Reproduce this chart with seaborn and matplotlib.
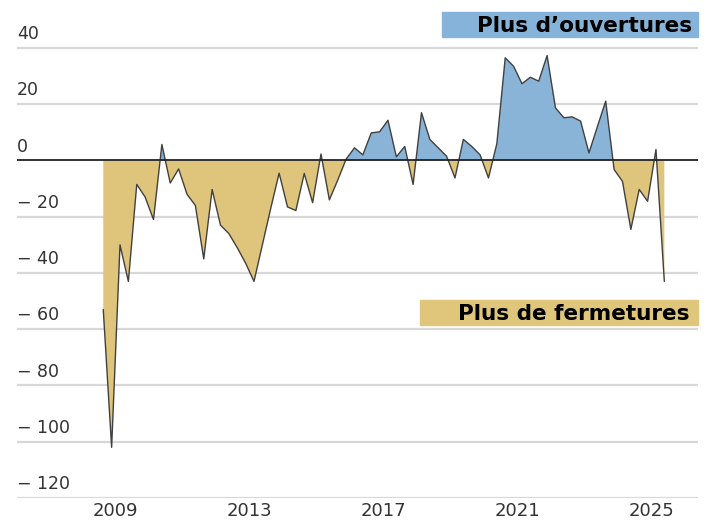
import numpy as np
import pandas as pd
import matplotlib
matplotlib.use("Agg")
import matplotlib.pyplot as plt
import seaborn as sns
from matplotlib.patches import Rectangle

# ---- data (quarterly balance, openings minus closures) ----
start_quarter = "2008Q3"
values = [-53, -102, -30, -43, -8.5, -13, -21, 5.7, -8, -3,
          -12, -16, -35, -10.3, -23, -26, -31, -36.5, -43, -30,
          -17, -4.5, -16.5, -17.8, -4.6, -15, 2.3, -14, -7, 0.5,
          4.5, 2, 9.8, 10.2, 14.3, 1.3, 5, -8.5, 17, 7.5,
          4.5, 1.5, -6.2, 7.5, 5, 2, -6.2, 6, 36.5, 33.5,
          27.3, 29.6, 28.2, 37.3, 18.7, 15.2, 15.5, 14, 2.7, 12,
          21.1, -3.2, -7.4, -24.5, -10.3, -14.5, 3.9, -43]
year_ticks = [2009, 2013, 2017, 2021, 2025]
y_ticks = [40, 20, 0, -20, -40, -60, -80, -100, -120]
y_tick_labels = ["40", "20", "0", "\u2212 20", "\u2212 40", "\u2212 60",
                 "\u2212 80", "\u2212 100", "\u2212 120"]
label_pos = "Plus d\u2019ouvertures"
label_neg = "Plus de fermetures"

periods = pd.period_range(start=start_quarter, periods=len(values), freq="Q")
# position each quarter at its mid-point, in fractional years
xpos = np.array([p.year + (p.quarter - 1) * 0.25 + 0.125 for p in periods])
df = pd.DataFrame({"t": xpos, "v": values})

BLUE = "#8ab4d7"
GOLD = "#dfc57b"
BLUE_BOX = "#86b3da"
GOLD_BOX = "#dfc67a"
TXT = "#333333"

sns.set_theme(style="white")
plt.rcParams["font.family"] = ["DejaVu Sans"]

W, H = 708, 522
fig = plt.figure(figsize=(W / 100, H / 100), dpi=100)
ax = fig.add_axes([17 / W, 24 / H, (698 - 17) / W, (498 - 5.8) / H])

# grid lines
for yt in y_ticks:
    if yt == 0:
        continue
    ax.axhline(yt, color="#d8d8d8", lw=1.6, zorder=0)

ax.fill_between(df["t"], df["v"], 0, where=df["v"] >= 0, interpolate=True,
                color=BLUE, lw=0, zorder=1)
ax.fill_between(df["t"], df["v"], 0, where=df["v"] <= 0, interpolate=True,
                color=GOLD, lw=0, zorder=1)
sns.lineplot(data=df, x="t", y="v", ax=ax, color="#404040", lw=1.0, zorder=3)
ax.axhline(0, color="#222222", lw=1.3, zorder=4)

ax.set_xlim(2006.05, 2026.38)
ax.set_ylim(-120, 55)
ax.set_xlabel("")
ax.set_ylabel("")
ax.set_yticks([])
ax.set_xticks(year_ticks)
ax.set_xticklabels([str(y) for y in year_ticks], fontsize=13, color=TXT)
ax.tick_params(axis="x", length=0, pad=3)
for s in ax.spines.values():
    s.set_visible(False)

for yt, lab in zip(y_ticks, y_tick_labels):
    ax.annotate(lab, xy=(0, yt), xycoords=("axes fraction", "data"),
                xytext=(0, 3.5), textcoords="offset points",
                ha="left", va="bottom", fontsize=12.5, color=TXT)

# label boxes (pixel coordinates from the top-left of the figure)
def box(x0, x1, y0, y1, color, text, tx):
    fig.patches.append(Rectangle((x0 / W, 1 - y1 / H), (x1 - x0) / W,
                                 (y1 - y0) / H, transform=fig.transFigure,
                                 color=color, zorder=5))
    fig.text(tx / W, 1 - (y0 + y1) / 2 / H, text, ha="right", va="center_baseline",
             fontsize=15.5, fontweight="heavy", color="black", zorder=6)

box(442, 698, 12, 37, BLUE_BOX, label_pos, 692)
box(420, 698, 300, 325, GOLD_BOX, label_neg, 690)

fig.savefig("out.png", dpi=100)
